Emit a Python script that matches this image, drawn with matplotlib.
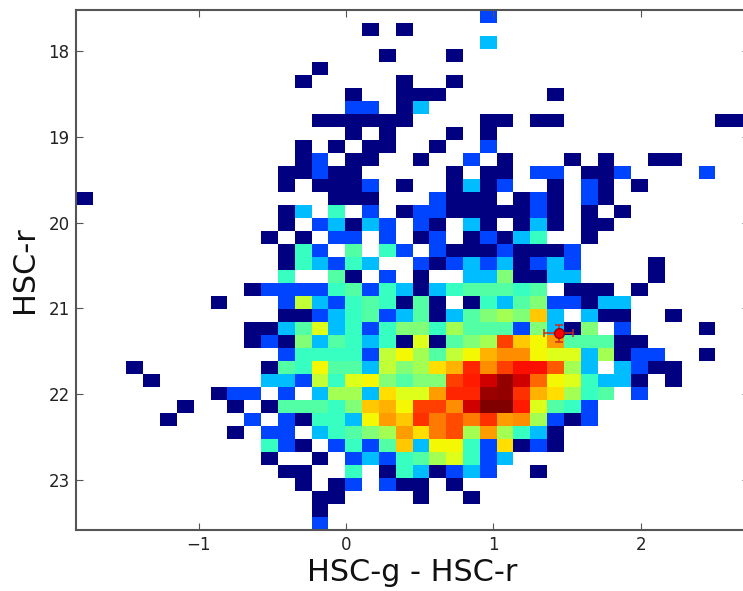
import numpy as np
import matplotlib
matplotlib.use('Agg')
import matplotlib.pyplot as plt
from matplotlib.colors import LogNorm

# counts per 2d bin, {column: count}, row 0 is the top of the plot
row_00 = {24: 2}
row_01 = {17: 1, 19: 1}
row_02 = {24: 3}
row_03 = {18: 1, 22: 1}
row_04 = {14: 1}
row_05 = {13: 1, 19: 1, 22: 1}
row_06 = {16: 1, 19: 1, 20: 1, 21: 1, 28: 1}
row_07 = {16: 2, 17: 2, 19: 1, 20: 3}
row_08 = {14: 1, 15: 1, 16: 1, 17: 1, 18: 1, 19: 1, 24: 1, 25: 1, 27: 1, 28: 1, 38: 1, 39: 1}
row_09 = {16: 1, 18: 1, 22: 1, 24: 1}
row_10 = {13: 1, 15: 1, 17: 1, 18: 1, 21: 1, 24: 2}
row_11 = {13: 1, 14: 2, 16: 1, 17: 1, 20: 1, 23: 2, 25: 1, 29: 1, 31: 1, 34: 1, 35: 1}
row_12 = {12: 1, 13: 1, 14: 2, 15: 1, 16: 1, 22: 1, 24: 1, 25: 1, 27: 2, 28: 2, 30: 1, 31: 1, 32: 2, 37: 2}
row_13 = {12: 1, 14: 1, 15: 1, 16: 1, 17: 2, 19: 1, 22: 1, 23: 3, 24: 1, 25: 2, 28: 1, 30: 2, 31: 1, 33: 1}
row_14 = {0: 1, 15: 1, 16: 1, 17: 1, 21: 2, 22: 1, 23: 1, 24: 1, 26: 1, 27: 2, 28: 1, 30: 2, 31: 1}
row_15 = {12: 1, 13: 3, 15: 4, 17: 2, 19: 1, 20: 2, 21: 2, 22: 1, 23: 1, 24: 1, 25: 1, 26: 1, 27: 2, 28: 1, 30: 1, 32: 1}
row_16 = {12: 1, 14: 2, 15: 3, 16: 1, 17: 3, 18: 2, 20: 2, 21: 1, 23: 3, 24: 1, 26: 1, 27: 3, 28: 1, 30: 1, 31: 1}
row_17 = {11: 1, 13: 1, 15: 2, 16: 2, 18: 2, 20: 1, 21: 2, 23: 1, 24: 2, 25: 1, 26: 3, 27: 4, 30: 1}
row_18 = {12: 1, 13: 4, 14: 2, 16: 5, 18: 4, 19: 2, 21: 2, 22: 1, 23: 1, 24: 1, 25: 2, 26: 1, 27: 1, 28: 1, 29: 2}
row_19 = {12: 1, 13: 4, 14: 3, 15: 2, 16: 4, 17: 3, 20: 2, 21: 1, 22: 2, 23: 3, 24: 2, 25: 3, 26: 1, 27: 2, 28: 3, 29: 2, 34: 1}
row_20 = {12: 4, 15: 5, 16: 1, 18: 2, 20: 1, 23: 3, 24: 3, 25: 6, 26: 1, 27: 1, 28: 3, 29: 3, 34: 1}
row_21 = {10: 1, 11: 2, 12: 2, 13: 2, 14: 2, 15: 4, 16: 5, 17: 2, 18: 4, 19: 3, 20: 1, 21: 3, 22: 4, 23: 5, 24: 5,
          25: 5, 26: 4, 27: 5, 29: 1, 30: 1, 31: 1, 33: 1}
row_22 = {8: 1, 12: 2, 13: 8, 14: 3, 15: 2, 16: 4, 17: 5, 18: 4, 19: 1, 20: 5, 21: 1, 23: 1, 24: 4, 25: 3, 26: 5,
          27: 6, 28: 2, 29: 2, 30: 1, 31: 3, 32: 3}
row_23 = {12: 1, 13: 1, 14: 2, 15: 3, 16: 4, 17: 5, 18: 2, 19: 3, 20: 5, 21: 1, 22: 3, 23: 5, 24: 6, 25: 7, 26: 6,
          27: 12, 28: 3, 30: 3, 31: 1, 32: 1, 35: 1}
row_24 = {10: 1, 11: 1, 12: 3, 13: 5, 14: 9, 15: 3, 16: 4, 17: 2, 18: 4, 19: 6, 20: 6, 21: 4, 22: 7, 23: 5, 24: 5,
          25: 5, 26: 2, 27: 6, 28: 3, 29: 1, 30: 6, 32: 2, 37: 1}
row_25 = {10: 1, 11: 2, 12: 1, 13: 6, 14: 3, 15: 5, 16: 4, 17: 3, 18: 4, 19: 1, 20: 9, 21: 1, 22: 5, 23: 6, 24: 7,
          25: 20, 26: 12, 27: 10, 28: 14, 29: 5, 30: 5, 31: 5, 32: 1, 33: 1}
row_26 = {12: 2, 13: 4, 14: 4, 15: 4, 16: 4, 17: 2, 18: 8, 19: 10, 20: 7, 21: 5, 22: 8, 23: 10, 24: 13, 25: 15,
          26: 15, 27: 10, 28: 9, 29: 9, 30: 3, 31: 7, 32: 1, 33: 2, 34: 2, 37: 1}
row_27 = {3: 1, 11: 1, 12: 5, 13: 4, 14: 10, 15: 5, 16: 5, 17: 3, 18: 8, 19: 6, 20: 7, 21: 11, 22: 13, 23: 22,
          24: 15, 25: 20, 26: 24, 27: 24, 28: 18, 29: 7, 30: 3, 32: 3, 33: 2, 34: 1, 35: 1}
row_28 = {4: 1, 11: 3, 12: 3, 13: 2, 14: 8, 15: 4, 16: 9, 17: 10, 18: 6, 19: 5, 20: 6, 21: 6, 22: 20, 23: 23,
          24: 27, 25: 33, 26: 27, 27: 17, 28: 10, 29: 9, 30: 4, 31: 3, 32: 3, 33: 1, 35: 1}
row_29 = {8: 1, 9: 2, 10: 2, 12: 2, 14: 3, 15: 7, 16: 7, 17: 3, 18: 11, 19: 9, 20: 9, 21: 14, 22: 22, 23: 22,
          24: 32, 25: 33, 26: 21, 27: 13, 28: 11, 29: 7, 30: 4, 31: 5, 33: 2}
row_30 = {6: 1, 9: 1, 11: 1, 12: 5, 13: 5, 14: 5, 15: 4, 16: 6, 17: 12, 18: 13, 19: 10, 20: 20, 21: 20, 22: 15,
          23: 27, 24: 35, 25: 35, 26: 23, 27: 9, 28: 5, 29: 4, 30: 2}
row_31 = {5: 1, 10: 2, 12: 2, 13: 1, 14: 4, 15: 4, 16: 3, 17: 10, 18: 14, 19: 12, 20: 21, 21: 16, 22: 19, 23: 16,
          24: 21, 25: 14, 26: 15, 27: 7, 28: 2, 29: 1, 30: 2}
row_32 = {9: 1, 11: 2, 12: 2, 14: 3, 15: 4, 16: 5, 17: 6, 18: 7, 19: 14, 20: 11, 21: 16, 22: 19, 23: 7, 24: 14,
          25: 7, 26: 4, 27: 3, 28: 1}
row_33 = {11: 4, 12: 2, 13: 1, 15: 2, 16: 4, 17: 2, 18: 5, 19: 12, 20: 3, 21: 10, 22: 10, 23: 4, 24: 2, 25: 11,
          26: 1, 27: 2, 28: 1}
row_34 = {11: 1, 14: 1, 16: 2, 17: 3, 18: 2, 19: 4, 20: 5, 21: 7, 22: 9, 23: 4, 24: 2, 25: 3}
row_35 = {12: 1, 13: 1, 16: 4, 18: 1, 19: 4, 20: 3, 21: 1, 22: 2, 23: 3, 24: 2, 27: 1}
row_36 = {13: 1, 15: 1, 16: 2, 18: 2, 19: 1, 20: 1, 22: 1}
row_37 = {14: 1, 15: 1, 20: 1, 23: 1}
row_38 = {14: 1}
row_39 = {14: 2}

rows = [row_00, row_01, row_02, row_03, row_04, row_05, row_06, row_07, row_08, row_09,
        row_10, row_11, row_12, row_13, row_14, row_15, row_16, row_17, row_18, row_19,
        row_20, row_21, row_22, row_23, row_24, row_25, row_26, row_27, row_28, row_29,
        row_30, row_31, row_32, row_33, row_34, row_35, row_36, row_37, row_38, row_39]

color_range = (-1.832, 2.735)
mag_range = (17.52, 23.58)
max_count = 35

# the one marked object
point_color = [1.443]
point_mag = [21.29]
point_color_err = [0.10]
point_mag_err = [0.10]

x_ticks = [-1, 0, 1, 2]
y_ticks = [18, 19, 20, 21, 22, 23]

grid = np.zeros((len(rows), 40))
for i, r in enumerate(rows):
    for col, n in r.items():
        grid[i, col] = n
grid[grid == 4] = 4.4  # these bins read a bit greener in the picture than a plain 4
grid = np.ma.masked_equal(grid, 0)

x_edges = np.linspace(color_range[0], color_range[1], 41)
y_edges = np.linspace(mag_range[0], mag_range[1], 41)

fig = plt.figure(figsize=(7.43, 5.91), dpi=100)
# the right spine sits just past the edge of the picture
ax = fig.add_axes([76 / 743., 1 - 530 / 591., 673 / 743., 520.5 / 591.])
ax.pcolormesh(x_edges, y_edges, grid, cmap='jet', norm=LogNorm(vmin=1, vmax=max_count))
ax.errorbar(point_color, point_mag, xerr=point_color_err, yerr=point_mag_err, fmt='o',
            color='#cc2a20', mfc='red', mec='#a00000', ms=7, elinewidth=1.1, capsize=3, capthick=1.1)

ax.set_xlim(color_range)
ax.set_ylim(mag_range[1], mag_range[0])
ax.set_xticks(x_ticks)
ax.set_yticks(y_ticks)
ax.tick_params(direction='in', top=True, right=True, length=5, width=0.8, color='#555555',
               labelsize=12, labelcolor='#222222', pad=4.5)
for s in ax.spines.values():
    s.set_linewidth(1.5)
    s.set_color('#555555')
ax.set_xlabel('HSC-g - HSC-r', fontsize=21.8, color='#111111', labelpad=3)
ax.set_ylabel('HSC-r', fontsize=21.8, color='#111111')
ax.yaxis.set_label_coords(-37 / 673., 0.5)

fig.savefig('out.png', dpi=100)
